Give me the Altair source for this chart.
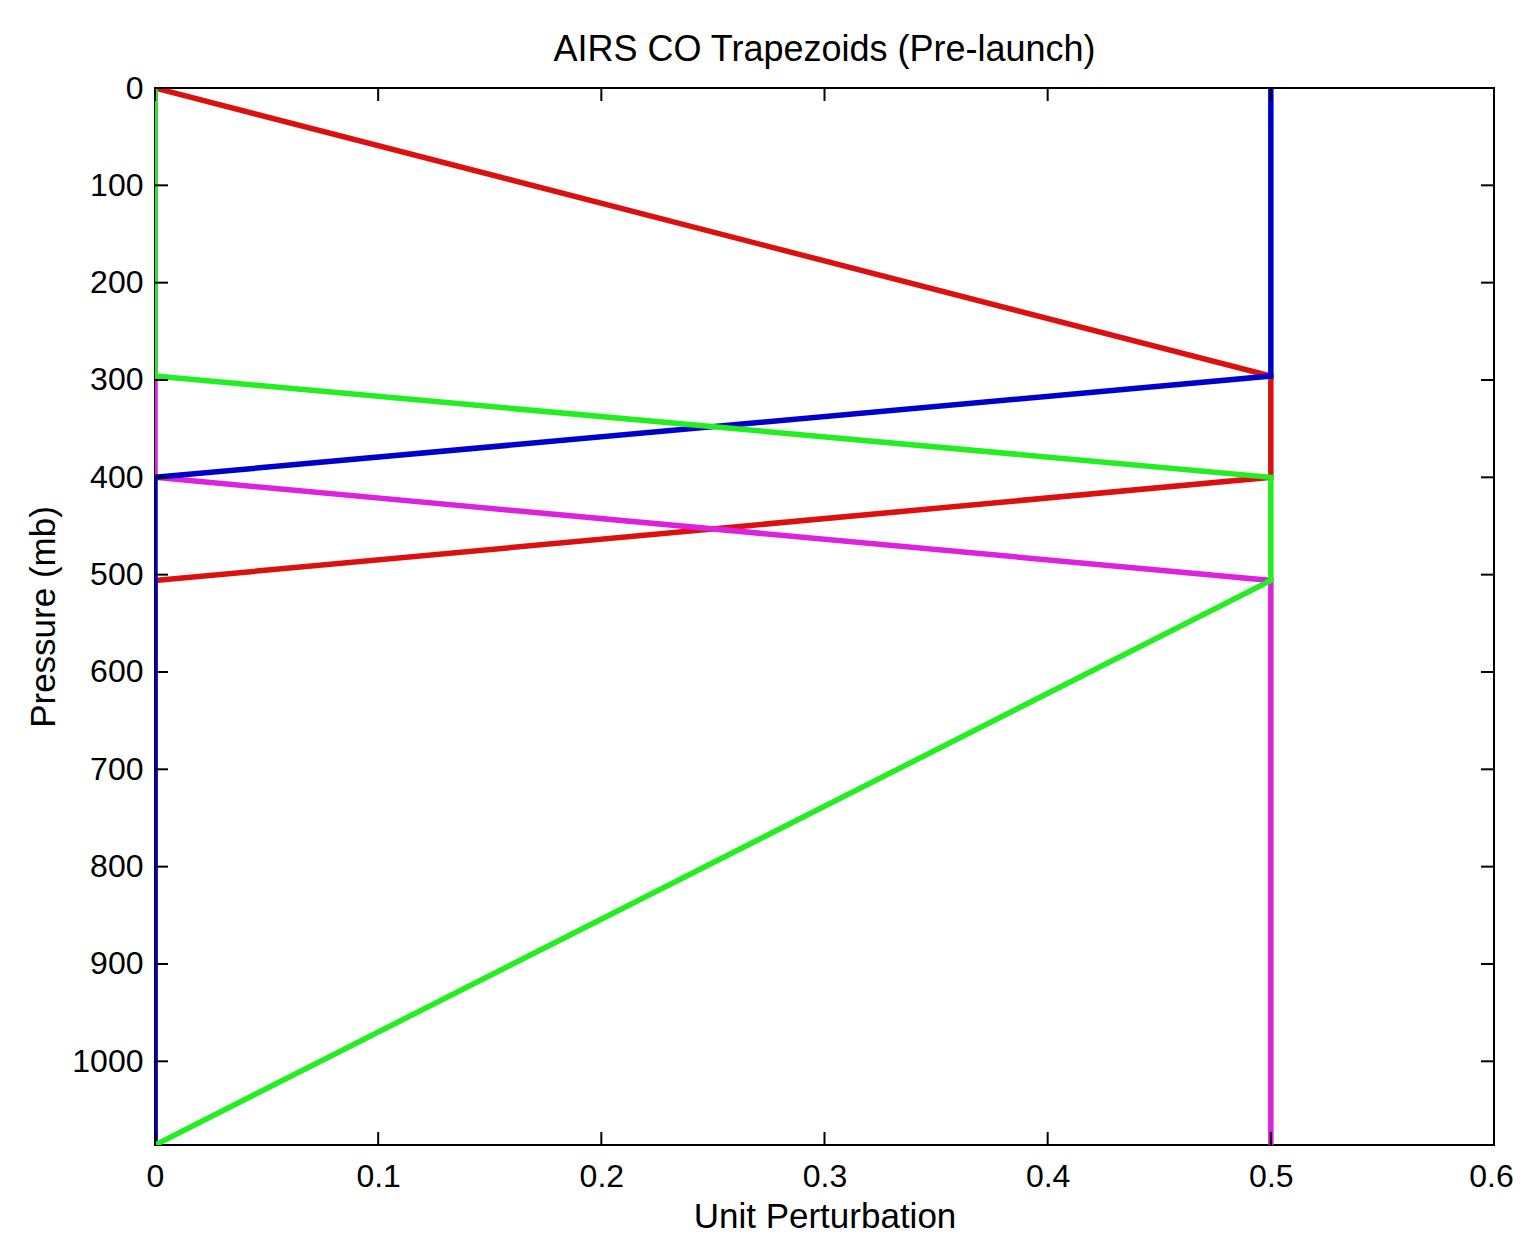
import altair as alt
import pandas as pd

# Pressure levels (mb) of the trapezoid corners
pressure = [0, 296, 400, 506, 1086]
# Unit perturbation of each trapezoid at those levels
red_vals = [0.0, 0.5, 0.5, 0.0, 0.0]
magenta_vals = [0.0, 0.0, 0.0, 0.5, 0.5]
blue_vals = [0.5, 0.5, 0.0, 0.0, 0.0]
green_vals = [0.0, 0.0, 0.5, 0.5, 0.0]

series_names = ["red", "magenta", "blue", "green"]
series_colors = ["#dd1010", "#dd22dd", "#0000cc", "#22ee22"]

x_ticks = [0, 0.1, 0.2, 0.3, 0.4, 0.5, 0.6]
y_ticks = [0, 100, 200, 300, 400, 500, 600, 700, 800, 900, 1000]

W, H = 1339, 1057
FONT = "Liberation Sans"

vals = {"red": red_vals, "magenta": magenta_vals, "blue": blue_vals, "green": green_vals}
rows = []
for s in series_names:
    for i, (p, v) in enumerate(zip(pressure, vals[s])):
        rows.append({"series": s, "p": p, "v": v, "idx": i})
df = pd.DataFrame(rows)

xscale = alt.Scale(domain=[0, 0.6], nice=False, zero=False)
yscale = alt.Scale(domain=[0, 1086], nice=False, zero=False, reverse=True)

xaxis = alt.Axis(values=x_ticks, format=".1~f", domain=False, ticks=False, tickSize=0,
                 grid=False, labelFontSize=32, labelPadding=16, labelFont=FONT,
                 labelColor="black", labelFlush=False, labelOverlap=False,
                 labelOffset={"condition": {"test": "datum.value >= 0.59", "value": -3}, "value": 0},
                 title="Unit Perturbation", titleFontSize=35,
                 titleFontWeight="normal", titleFont=FONT, titleColor="black",
                 titleBaseline="middle", titleX=W / 2, titleY=71)
yaxis = alt.Axis(values=y_ticks, format="d", domain=False, ticks=False, tickSize=0,
                 grid=False, labelFontSize=32, labelPadding=12, labelFont=FONT,
                 labelColor="black", labelFlush=False, labelOverlap=False,
                 title="Pressure (mb)", titleFontSize=35,
                 titleFontWeight="normal", titleFont=FONT, titleColor="black",
                 titleBaseline="middle", titleX=-112, titleY=H / 2, titleAngle=270)

layers = []
for i, s in enumerate(series_names):
    layers.append(
        alt.Chart(df[df.series == s]).mark_line(strokeWidth=5.5, color=series_colors[i], clip=True)
        .encode(x=alt.X("v:Q", scale=xscale, axis=xaxis),
                y=alt.Y("p:Q", scale=yscale, axis=yaxis),
                order=alt.Order("idx:Q"))
    )

xt = pd.DataFrame({"v": x_ticks})
yt = pd.DataFrame({"p": y_ticks})
tick_len = 13
bottom_ticks = alt.Chart(xt).mark_rule(color="black", strokeWidth=2).encode(
    x=alt.X("v:Q", scale=xscale, axis=xaxis), y=alt.value(H), y2=alt.value(H - tick_len))
top_ticks = alt.Chart(xt).mark_rule(color="black", strokeWidth=2).encode(
    x=alt.X("v:Q", scale=xscale, axis=xaxis), y=alt.value(0), y2=alt.value(tick_len))
left_ticks = alt.Chart(yt).mark_rule(color="black", strokeWidth=2).encode(
    y=alt.Y("p:Q", scale=yscale, axis=yaxis), x=alt.value(0), x2=alt.value(tick_len))
right_ticks = alt.Chart(yt).mark_rule(color="black", strokeWidth=2).encode(
    y=alt.Y("p:Q", scale=yscale, axis=yaxis), x=alt.value(W), x2=alt.value(W - tick_len))

chart = alt.layer(*layers, bottom_ticks, top_ticks, left_ticks, right_ticks).properties(
    width=W, height=H,
    title=alt.TitleParams("AIRS CO Trapezoids (Pre-launch)", fontSize=36, fontWeight="normal",
                          font=FONT, color="black", anchor="middle", offset=3),
    autosize=alt.AutoSizeParams(type="none"),
    padding={"left": 147, "top": 80, "right": 20, "bottom": 88},
    background="white",
).configure_view(stroke="black", strokeWidth=2)

chart.save("out.html", embed_options={"renderer": "svg", "actions": False})
